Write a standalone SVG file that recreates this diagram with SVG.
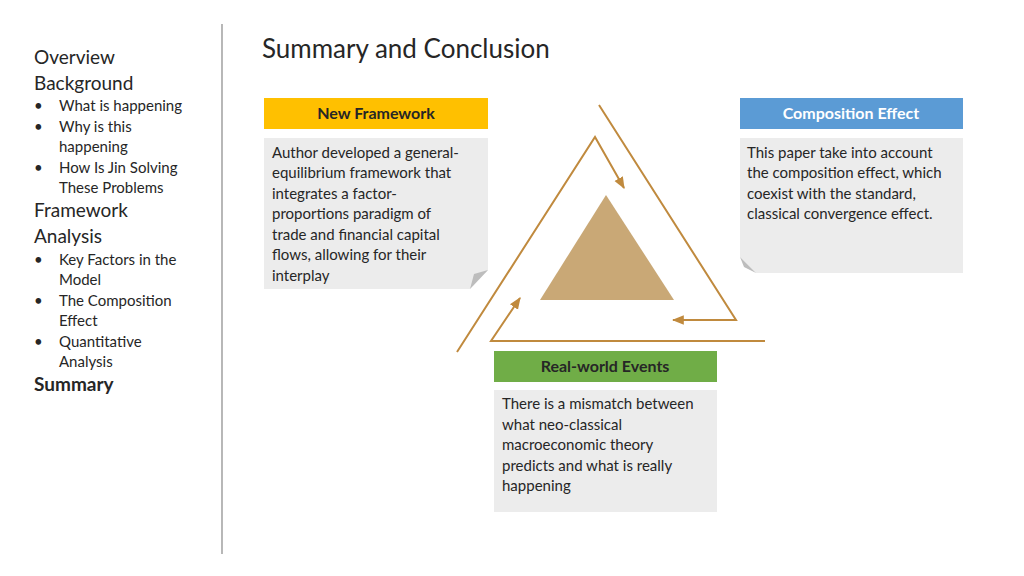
<svg xmlns="http://www.w3.org/2000/svg" width="1024" height="576" viewBox="0 0 1024 576">
<style>
text{font-family:Lato,"Open Sans",sans-serif;fill:#262626}
.h{font-size:19px}.b{font-size:15px}
.t{font-size:15px}
.hd{font-size:16px;font-weight:bold;text-anchor:middle}
.box{fill:#ececec}
.ln{stroke:#c08a3e;stroke-width:2;fill:none}
</style>
<defs><marker id="a" viewBox="0 0 10 10" refX="9" refY="5" markerWidth="6" markerHeight="6" orient="auto"><path d="M0,1 L10,5 L0,9z" fill="#c08a3e"/></marker></defs>
<rect width="1024" height="576" fill="#fff"/>
<line x1="222" y1="24" x2="222" y2="554" stroke="#888" stroke-width="1.2"/>
<g id="sidebar">
<text x="34" y="64" class="h">Overview</text>
<text x="34" y="90" class="h">Background</text>
<text x="34" y="111" class="b">•</text><text x="59" y="111" class="b">What is happening</text>
<text x="34" y="132" class="b">•</text><text x="59" y="132" class="b">Why is this</text>
<text x="59" y="152" class="b">happening</text>
<text x="34" y="173" class="b">•</text><text x="59" y="173" class="b">How Is Jin Solving</text>
<text x="59" y="193" class="b">These Problems</text>
<text x="34" y="217" class="h">Framework</text>
<text x="34" y="243" class="h">Analysis</text>
<text x="34" y="265" class="b">•</text><text x="59" y="265" class="b">Key Factors in the</text>
<text x="59" y="285" class="b">Model</text>
<text x="34" y="306" class="b">•</text><text x="59" y="306" class="b">The Composition</text>
<text x="59" y="326" class="b">Effect</text>
<text x="34" y="347" class="b">•</text><text x="59" y="347" class="b">Quantitative</text>
<text x="59" y="367" class="b">Analysis</text>
<text x="34" y="391" class="h" font-weight="bold">Summary</text>
</g>
<text x="262" y="58" font-size="26">Summary and Conclusion</text>
<g id="new-framework">
<rect x="264" y="98" width="224" height="31" fill="#ffc000"/>
<text x="376" y="119" class="hd">New Framework</text>
<path class="box" d="M264,138 H488 V270 L470,289 H264Z"/>
<path d="M470,289 L474,274 L488,270Z" fill="#bdbdbd"/>
<text class="t"><tspan x="272" y="158">Author developed a general-</tspan><tspan x="272" y="178">equilibrium framework that</tspan><tspan x="272" y="199">integrates a factor-</tspan><tspan x="272" y="219">proportions paradigm of</tspan><tspan x="272" y="240">trade and financial capital</tspan><tspan x="272" y="260">flows, allowing for their</tspan><tspan x="272" y="281">interplay</tspan></text>
</g>
<g id="composition-effect">
<rect x="740" y="98" width="223" height="31" fill="#5b9bd5"/>
<text x="851" y="119" class="hd" style="fill:#fff">Composition Effect</text>
<path class="box" d="M740,138 H963 V273 H756 L740,257Z"/>
<path d="M740,257 L744,267 L756,273Z" fill="#bdbdbd"/>
<text class="t"><tspan x="747" y="158">This paper take into account</tspan><tspan x="747" y="178">the composition effect, which</tspan><tspan x="747" y="199">coexist with the standard,</tspan><tspan x="747" y="219">classical convergence effect.</tspan></text>
</g>
<g id="real-world-events">
<rect x="494" y="351" width="223" height="31" fill="#70ad47"/>
<text x="605" y="372" class="hd">Real-world Events</text>
<rect class="box" x="494" y="390" width="223" height="122"/>
<text class="t"><tspan x="502" y="409">There is a mismatch between</tspan><tspan x="502" y="430">what neo-classical</tspan><tspan x="502" y="450">macroeconomic theory</tspan><tspan x="502" y="471">predicts and what is really</tspan><tspan x="502" y="491">happening</tspan></text>
</g>
<g id="center"><path d="M606,195 L674,300 H540Z" fill="#c9a876"/></g>
<g id="connectors">
<path class="ln" d="M599,105 L736,320 H673" marker-end="url(#a)"/>
<path class="ln" d="M457,352 L595,137 L624,188" marker-end="url(#a)"/>
<path class="ln" d="M765,341 H491 L520,298" marker-end="url(#a)"/>
</g>
</svg>
